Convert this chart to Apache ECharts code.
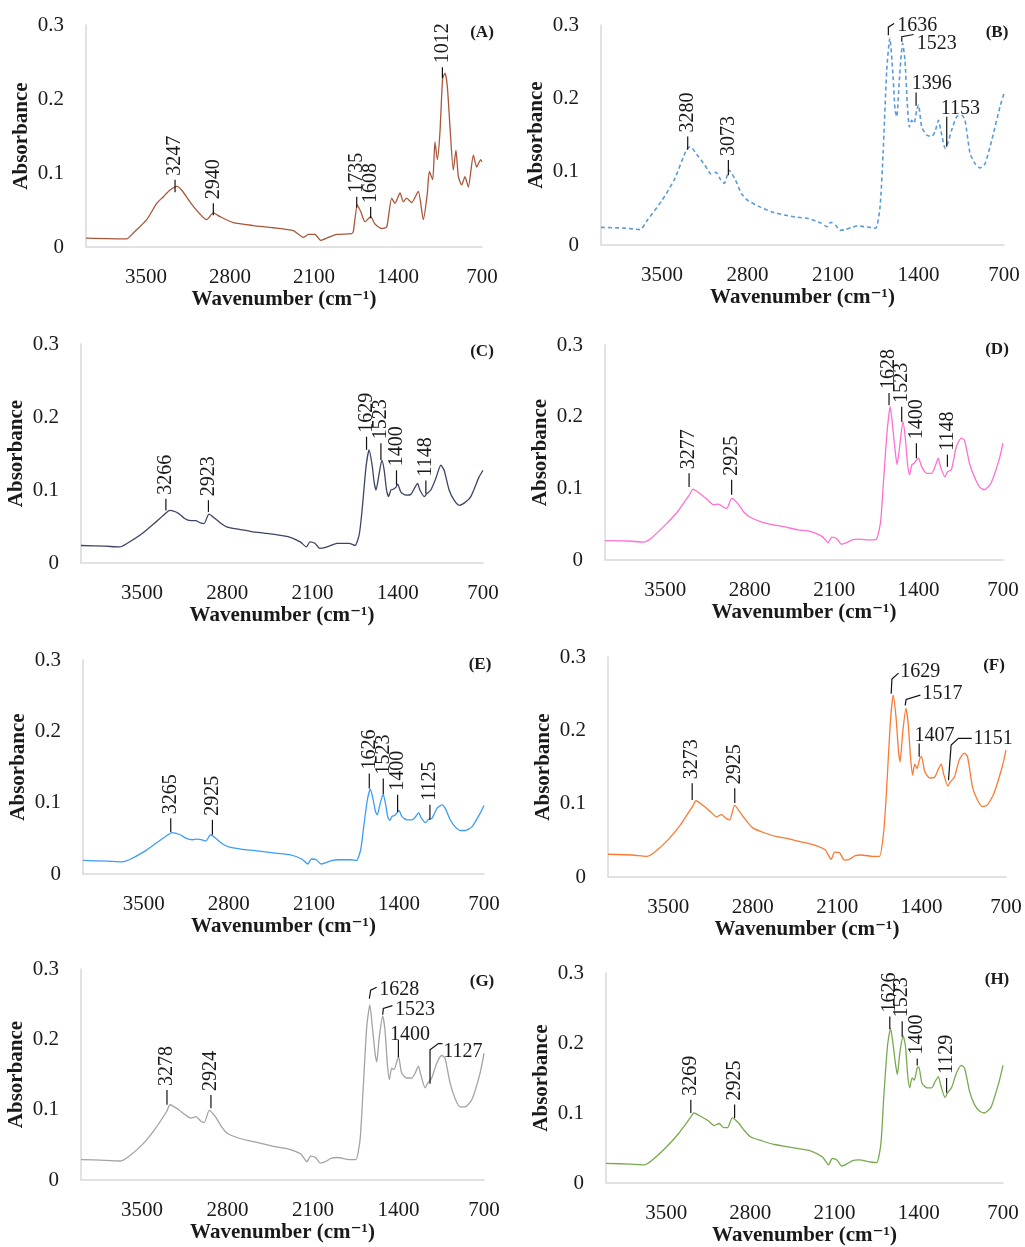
<!DOCTYPE html>
<html>
<head>
<meta charset="utf-8">
<title>FTIR spectra A-H</title>
<script src="https://cdn.jsdelivr.net/npm/echarts@6/dist/echarts.min.js"></script>
<style>
  html, body { margin: 0; padding: 0; background: #fff; }
  #main { width: 1025px; height: 1247px; }
</style>
</head>
<body>
<div id="main"></div>
<script>
var serif = '"Liberation Serif", "DejaVu Serif", serif';
var textColor = '#1a1a1a';
var axisColor = '#d9d9d9';

// spectrum (A) has its own sampling
var wnA = [4000, 3661, 3606, 3494, 3411, 3355, 3300, 3244, 3203, 3106, 2994, 2939, 2883, 2772, 2606, 2439, 2272, 2189, 2147, 2092,
  2044, 1981, 1911, 1786, 1772, 1739, 1711, 1675, 1628, 1592, 1536, 1494, 1453, 1425, 1383, 1356, 1328, 1286, 1231, 1189,
  1156, 1139, 1111, 1092, 1072, 1050, 1028, 1008, 989, 967, 939, 917, 897, 869, 842, 814, 772, 744, 711, 700];
var absA = [0.012, 0.011, 0.019, 0.037, 0.059, 0.068, 0.077, 0.082, 0.077, 0.055, 0.037, 0.046, 0.041, 0.033, 0.029, 0.026, 0.022, 0.013, 0.017, 0.017,
  0.009, 0.013, 0.017, 0.018, 0.021, 0.057, 0.048, 0.034, 0.041, 0.031, 0.025, 0.027, 0.066, 0.059, 0.073, 0.061, 0.066, 0.060, 0.075, 0.037,
  0.072, 0.102, 0.091, 0.142, 0.118, 0.156, 0.228, 0.235, 0.217, 0.163, 0.104, 0.131, 0.095, 0.084, 0.095, 0.081, 0.124, 0.108, 0.118, 0.115];

// spectra (B)-(H) share one wavenumber list
var wn = [4000, 3800, 3680, 3620, 3500, 3400, 3300, 3270, 3200, 3150, 3100, 3060, 3020, 2990, 2950, 2900, 2850, 2800, 2700, 2600,
  2500, 2400, 2300, 2200, 2150, 2120, 2080, 2040, 2000, 1950, 1900, 1800, 1750, 1715, 1690, 1660, 1635, 1612, 1592, 1578,
  1557, 1530, 1511, 1492, 1475, 1456, 1437, 1414, 1400, 1374, 1333, 1292, 1264, 1237, 1218, 1182, 1160, 1128, 1087, 1046,
  1019, 978, 937, 896, 855, 800, 732, 700];

var absB = [0.024, 0.023, 0.021, 0.034, 0.061, 0.089, 0.130, 0.134, 0.120, 0.109, 0.097, 0.099, 0.089, 0.084, 0.102, 0.089, 0.070, 0.061, 0.052, 0.045,
  0.041, 0.038, 0.036, 0.030, 0.025, 0.031, 0.027, 0.020, 0.021, 0.024, 0.026, 0.024, 0.023, 0.052, 0.125, 0.239, 0.282, 0.239, 0.184, 0.175,
  0.225, 0.275, 0.252, 0.193, 0.161, 0.170, 0.166, 0.184, 0.191, 0.161, 0.150, 0.148, 0.155, 0.170, 0.157, 0.132, 0.139, 0.157, 0.175, 0.177,
  0.170, 0.125, 0.111, 0.105, 0.111, 0.143, 0.189, 0.207];
var absC = [0.024, 0.023, 0.022, 0.027, 0.040, 0.054, 0.069, 0.072, 0.068, 0.061, 0.058, 0.058, 0.055, 0.054, 0.067, 0.061, 0.054, 0.049, 0.046, 0.043,
  0.041, 0.039, 0.036, 0.029, 0.022, 0.029, 0.027, 0.020, 0.021, 0.024, 0.027, 0.027, 0.024, 0.040, 0.077, 0.132, 0.155, 0.136, 0.109, 0.100,
  0.118, 0.141, 0.127, 0.100, 0.091, 0.100, 0.101, 0.104, 0.108, 0.097, 0.093, 0.094, 0.102, 0.109, 0.100, 0.091, 0.095, 0.100, 0.116, 0.134,
  0.127, 0.100, 0.086, 0.079, 0.082, 0.091, 0.118, 0.127];
var absD = [0.027, 0.0265, 0.025, 0.030, 0.049, 0.067, 0.091, 0.099, 0.091, 0.084, 0.077, 0.078, 0.074, 0.072, 0.086, 0.079, 0.067, 0.060, 0.053, 0.049,
  0.046, 0.042, 0.040, 0.033, 0.024, 0.032, 0.030, 0.022, 0.024, 0.028, 0.029, 0.028, 0.029, 0.053, 0.112, 0.181, 0.214, 0.181, 0.149, 0.133,
  0.158, 0.193, 0.172, 0.135, 0.119, 0.133, 0.135, 0.140, 0.142, 0.130, 0.121, 0.121, 0.130, 0.142, 0.130, 0.116, 0.123, 0.126, 0.158, 0.170,
  0.167, 0.135, 0.116, 0.102, 0.098, 0.107, 0.140, 0.163];
var absE = [0.019, 0.018, 0.017, 0.020, 0.031, 0.043, 0.055, 0.058, 0.055, 0.050, 0.048, 0.049, 0.048, 0.046, 0.055, 0.049, 0.042, 0.038, 0.035, 0.033,
  0.031, 0.029, 0.027, 0.021, 0.014, 0.021, 0.020, 0.014, 0.016, 0.019, 0.020, 0.020, 0.019, 0.034, 0.066, 0.104, 0.119, 0.104, 0.087, 0.083,
  0.097, 0.112, 0.099, 0.080, 0.075, 0.081, 0.082, 0.086, 0.089, 0.080, 0.076, 0.076, 0.080, 0.086, 0.079, 0.072, 0.076, 0.078, 0.092, 0.097,
  0.092, 0.076, 0.066, 0.061, 0.061, 0.066, 0.085, 0.096];
var absF = [0.031, 0.030, 0.028, 0.033, 0.051, 0.071, 0.096, 0.104, 0.096, 0.089, 0.082, 0.085, 0.080, 0.078, 0.098, 0.087, 0.076, 0.067, 0.060, 0.055,
  0.052, 0.048, 0.044, 0.037, 0.024, 0.034, 0.033, 0.023, 0.024, 0.029, 0.030, 0.028, 0.028, 0.060, 0.119, 0.209, 0.248, 0.218, 0.173, 0.157,
  0.196, 0.230, 0.209, 0.164, 0.139, 0.154, 0.148, 0.162, 0.164, 0.144, 0.135, 0.136, 0.146, 0.154, 0.141, 0.124, 0.130, 0.136, 0.160, 0.169,
  0.164, 0.123, 0.105, 0.096, 0.098, 0.114, 0.150, 0.173];
var absG = [0.029, 0.028, 0.027, 0.032, 0.050, 0.071, 0.097, 0.107, 0.100, 0.093, 0.088, 0.090, 0.084, 0.082, 0.099, 0.090, 0.076, 0.066, 0.059, 0.055,
  0.051, 0.047, 0.044, 0.037, 0.026, 0.034, 0.032, 0.024, 0.026, 0.031, 0.032, 0.029, 0.029, 0.057, 0.128, 0.218, 0.249, 0.214, 0.180, 0.168,
  0.204, 0.233, 0.214, 0.166, 0.143, 0.159, 0.157, 0.168, 0.176, 0.152, 0.145, 0.145, 0.152, 0.162, 0.150, 0.131, 0.138, 0.145, 0.166, 0.177,
  0.173, 0.138, 0.116, 0.104, 0.104, 0.114, 0.152, 0.180];
var absH = [0.028, 0.027, 0.026, 0.032, 0.051, 0.070, 0.093, 0.100, 0.094, 0.089, 0.082, 0.085, 0.079, 0.079, 0.093, 0.086, 0.075, 0.066, 0.060, 0.055,
  0.052, 0.049, 0.046, 0.037, 0.026, 0.035, 0.033, 0.024, 0.027, 0.032, 0.033, 0.030, 0.029, 0.056, 0.126, 0.196, 0.221, 0.196, 0.168, 0.155,
  0.187, 0.210, 0.196, 0.154, 0.136, 0.150, 0.147, 0.164, 0.166, 0.143, 0.136, 0.136, 0.145, 0.152, 0.140, 0.122, 0.129, 0.136, 0.157, 0.168,
  0.164, 0.131, 0.112, 0.103, 0.100, 0.108, 0.145, 0.168];

// vertical peak labels: text, wavenumber, tick bottom, tick top (absorbance)
var upA = [['3247', 3258, 0.074, 0.091], ['2940', 2939, 0.043, 0.059], ['1735', 1744, 0.053, 0.068], ['1608', 1628, 0.039, 0.054], ['1012', 1030, 0.228, 0.243]];
var upB = [['3280', 3290, 0.130, 0.148], ['3073', 2957, 0.095, 0.116]];
var upC = [['3266', 3303, 0.072, 0.088], ['2923', 2954, 0.070, 0.086], ['1629', 1656, 0.155, 0.173], ['1523', 1538, 0.141, 0.164], ['1400', 1410, 0.107, 0.127], ['1148', 1169, 0.095, 0.113]];
var upD = [['3277', 3303, 0.102, 0.121], ['2925', 2950, 0.091, 0.112], ['1628', 1645, 0.216, 0.233], ['1523', 1540, 0.193, 0.214], ['1400', 1418, 0.142, 0.163], ['1148', 1161, 0.130, 0.147]];
var upE = [['3265', 3278, 0.059, 0.078], ['2925', 2935, 0.055, 0.076], ['1626', 1644, 0.120, 0.141], ['1523', 1529, 0.112, 0.134], ['1400', 1411, 0.087, 0.111], ['1125', 1145, 0.076, 0.097]];
var upF = [['3273', 3302, 0.105, 0.128], ['2925', 2949, 0.101, 0.121]];
var upG = [['3278', 3296, 0.107, 0.128], ['2924', 2936, 0.102, 0.121]];
var upH = [['3269', 3295, 0.100, 0.119], ['2925', 2931, 0.093, 0.112], ['1626', 1641, 0.220, 0.238], ['1523', 1538, 0.209, 0.231], ['1400', 1413, 0.168, 0.178], ['1129', 1169, 0.129, 0.150]];

// horizontal peak labels: text, leader points [wavenumber, absorbance], text start
var sideB = [
  ['1636', [[1647, 0.286], [1647, 0.297], [1600, 0.302]], [1575, 0.299]],
  ['1523', [[1537, 0.277], [1537, 0.284], [1440, 0.287]], [1414, 0.274]],
  ['1396', [[1420, 0.190], [1420, 0.208]], [1455, 0.220]],
  ['1153', [[1169, 0.134], [1169, 0.175]], [1218, 0.186]]
];
var sideF = [
  ['1629', [[1652, 0.250], [1646, 0.270], [1591, 0.278]], [1577, 0.280]],
  ['1517', [[1536, 0.234], [1528, 0.242], [1410, 0.248]], [1392, 0.250]],
  ['1407', [[1420, 0.164], [1420, 0.182]], [1459, 0.193]],
  ['1151', [[1177, 0.132], [1155, 0.180], [1094, 0.189], [984, 0.189]], [970, 0.189]]
];
var sideG = [
  ['1628', [[1639, 0.258], [1628, 0.270], [1579, 0.274]], [1557, 0.270]],
  ['1523', [[1530, 0.235], [1524, 0.244], [1450, 0.248]], [1428, 0.242]],
  ['1400', [[1401, 0.175], [1401, 0.199]], [1469, 0.206]],
  ['1127', [[1142, 0.137], [1142, 0.185], [1074, 0.194], [1040, 0.194]], [1033, 0.182]]
];

var panels = [
  { tag: '(A)', x: wnA, y: absA, up: upA, side: [], color: '#a9573a', dash: 'solid', left: 86, top: 25, width: 396, height: 222, tx: 482, ty: 33 },
  { tag: '(B)', x: wn, y: absB, up: upB, side: sideB, color: '#5b9bd5', dash: [4, 3], left: 601, top: 25, width: 403, height: 220, tx: 997, ty: 33 },
  { tag: '(C)', x: wn, y: absC, up: upC, side: [], color: '#3c4563', dash: 'solid', left: 81, top: 344, width: 402, height: 219, tx: 482, ty: 352 },
  { tag: '(D)', x: wn, y: absD, up: upD, side: [], color: '#ff6fcf', dash: 'solid', left: 605, top: 345, width: 398, height: 215, tx: 997, ty: 350 },
  { tag: '(E)', x: wn, y: absE, up: upE, side: [], color: '#3d9cf5', dash: 'solid', left: 83, top: 660, width: 401, height: 214, tx: 480, ty: 665 },
  { tag: '(F)', x: wn, y: absF, up: upF, side: sideF, color: '#fa7a35', dash: 'solid', left: 608, top: 657, width: 398, height: 220, tx: 994, ty: 666 },
  { tag: '(G)', x: wn, y: absG, up: upG, side: sideG, color: '#a3a3a3', dash: 'solid', left: 81, top: 969, width: 403, height: 211, tx: 482, ty: 982 },
  { tag: '(H)', x: wn, y: absH, up: upH, side: [], color: '#78a94f', dash: 'solid', left: 606, top: 973, width: 397, height: 214, tx: 997, ty: 980 }
];

function noteSeries(i, up, side) {
  var items = [];
  up.forEach(function (n) { items.push({ kind: 'up', n: n }); });
  side.forEach(function (n) { items.push({ kind: 'side', n: n }); });
  return {
    type: 'custom',
    xAxisIndex: i,
    yAxisIndex: i,
    silent: true,
    z: 5,
    data: items.map(function (it) { return it.kind === 'up' ? [it.n[1], it.n[2]] : it.n[2]; }),
    renderItem: function (params, api) {
      var it = items[params.dataIndex];
      var n = it.n;
      if (it.kind === 'up') {
        var b = api.coord([n[1], n[2]]);
        var t = api.coord([n[1], n[3]]);
        return {
          type: 'group',
          children: [
            { type: 'line', shape: { x1: b[0], y1: b[1], x2: t[0], y2: t[1] }, style: { stroke: '#111', lineWidth: 1.2 } },
            { type: 'text', x: t[0], y: t[1] - 4, rotation: Math.PI / 2,
              style: { text: n[0], fontSize: 20, fontFamily: serif, fill: textColor, align: 'left', verticalAlign: 'middle' } }
          ]
        };
      }
      var pts = n[1].map(function (p) { return api.coord(p); });
      var tp = api.coord(n[2]);
      return {
        type: 'group',
        children: [
          { type: 'polyline', shape: { points: pts }, style: { stroke: '#111', lineWidth: 1.2, fill: null } },
          { type: 'text', x: tp[0], y: tp[1],
            style: { text: n[0], fontSize: 20, fontFamily: serif, fill: textColor, align: 'left', verticalAlign: 'middle' } }
        ]
      };
    }
  };
}

var grids = [], xAxes = [], yAxes = [], series = [], graphics = [];

panels.forEach(function (p, i) {
  grids.push({ left: p.left, top: p.top, width: p.width, height: p.height });
  xAxes.push({
    gridIndex: i,
    type: 'value',
    inverse: true,
    min: 700,
    max: 4000,
    interval: 700,
    axisLine: { lineStyle: { color: axisColor, width: 1.5 } },
    axisTick: { show: false },
    splitLine: { show: false },
    axisLabel: {
      margin: 20, color: textColor, fontSize: 21, fontFamily: serif,
      formatter: function (v) { return v === 4000 ? '' : v; }
    },
    name: 'Wavenumber (cm\u207B\u00B9)',
    nameLocation: 'middle',
    nameGap: 42,
    nameTextStyle: { color: textColor, fontSize: 21, fontWeight: 'bold', fontFamily: serif }
  });
  yAxes.push({
    gridIndex: i,
    type: 'value',
    min: 0,
    max: 0.3,
    interval: 0.1,
    axisLine: { show: true, lineStyle: { color: axisColor, width: 1.5 } },
    axisTick: { show: false },
    splitLine: { show: false },
    axisLabel: { margin: 22, color: textColor, fontSize: 21, fontFamily: serif },
    name: 'Absorbance',
    nameLocation: 'middle',
    nameGap: 54,
    nameTextStyle: { color: textColor, fontSize: 21, fontWeight: 'bold', fontFamily: serif }
  });
  series.push({
    type: 'line',
    xAxisIndex: i,
    yAxisIndex: i,
    data: p.x.map(function (w, k) { return [w, p.y[k]]; }),
    showSymbol: false,
    symbol: 'none',
    smooth: 0.2,
    silent: true,
    lineStyle: { color: p.color, width: p.dash === 'solid' ? 1.3 : 1.6, type: p.dash }
  });
  series.push(noteSeries(i, p.up, p.side));
  graphics.push({
    type: 'text', x: p.tx, y: p.ty,
    style: { text: p.tag, fontSize: 17, fontWeight: 'bold', fontFamily: serif, fill: textColor, align: 'center', verticalAlign: 'middle' }
  });
});

var myChart = echarts.init(document.getElementById('main'));
myChart.setOption({
  animation: false,
  backgroundColor: '#ffffff',
  grid: grids,
  xAxis: xAxes,
  yAxis: yAxes,
  series: series,
  graphic: graphics
});
</script>
</body>
</html>
